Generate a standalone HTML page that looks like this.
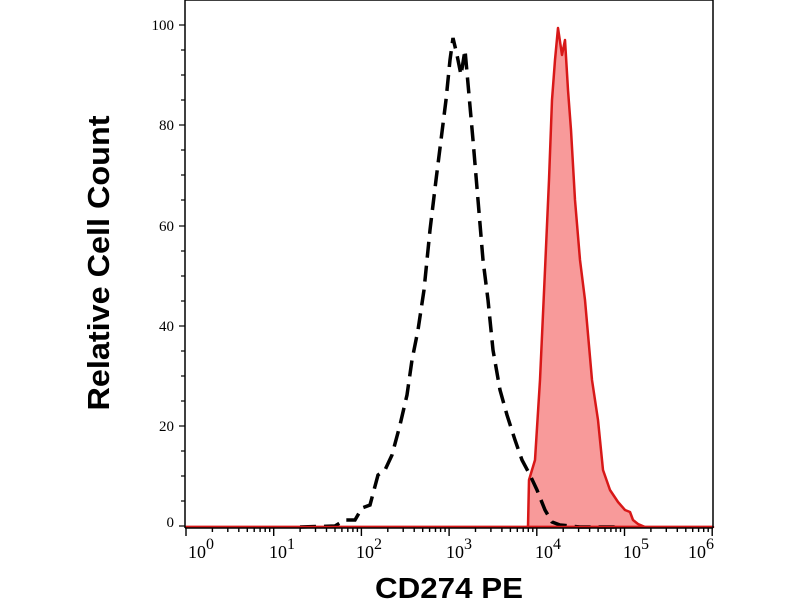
<!DOCTYPE html>
<html><head><style>body{margin:0;background:#fff}</style></head><body>
<svg width="800" height="600" viewBox="0 0 800 600" xmlns="http://www.w3.org/2000/svg">
<rect width="800" height="600" fill="#fff"/>
<polygon fill="#f89a9a" stroke="#d81818" stroke-width="2.5" stroke-linejoin="round" points="186,527 526,527 528,527 529,480 535,460 540,380 545,270 549,180 552,100 555,60 558,28 562,55 565,40 568,90 571,130 575,200 580,260 585,300 592,380 598,420 603,470 610,490 618,502 625,510 630,512 633,520 638,524 645,527 713,527"/>
<polyline fill="none" stroke="#000" stroke-width="3.5" stroke-dasharray="16,8" points="300,527 335,526 345,520 355,520 362,508 370,505 378,475 385,470 392,455 400,425 407,395 412,360 418,330 424,290 430,230 436,180 441,140 446,100 450,60 453,38 457,55 461,75 465,50 469,95 473,140 478,200 483,260 488,300 493,350 500,390 507,415 515,440 522,460 530,475 537,490 545,510 552,522 560,525 580,527 620,527"/>
<line x1="186" y1="527" x2="713" y2="527" stroke="#d81818" stroke-width="2.5"/>
<g stroke="#000" stroke-width="1.5" fill="none">
<line x1="185" y1="0" x2="185" y2="528"/>
<line x1="713" y1="0" x2="713" y2="528"/>
<line x1="185" y1="0" x2="713" y2="0"/>
<line x1="185" y1="528" x2="713" y2="528"/>
</g>
<g stroke="#000" stroke-width="1.2">
<line x1="179" y1="25" x2="185" y2="25"/><line x1="181" y1="50" x2="185" y2="50"/><line x1="181" y1="75" x2="185" y2="75"/><line x1="181" y1="100" x2="185" y2="100"/>
<line x1="179" y1="125" x2="185" y2="125"/><line x1="181" y1="150" x2="185" y2="150"/><line x1="181" y1="175" x2="185" y2="175"/><line x1="181" y1="200" x2="185" y2="200"/>
<line x1="179" y1="226" x2="185" y2="226"/><line x1="181" y1="251" x2="185" y2="251"/><line x1="181" y1="276" x2="185" y2="276"/><line x1="181" y1="301" x2="185" y2="301"/>
<line x1="179" y1="326" x2="185" y2="326"/><line x1="181" y1="351" x2="185" y2="351"/><line x1="181" y1="376" x2="185" y2="376"/><line x1="181" y1="401" x2="185" y2="401"/>
<line x1="179" y1="426" x2="185" y2="426"/><line x1="181" y1="451" x2="185" y2="451"/><line x1="181" y1="476" x2="185" y2="476"/><line x1="181" y1="501" x2="185" y2="501"/>
<line x1="179" y1="526" x2="185" y2="526"/>
</g>
<g font-family="Liberation Serif, serif" font-size="15" text-anchor="end" fill="#000">
<text x="174" y="30">100</text><text x="174" y="130">80</text><text x="174" y="231">60</text><text x="174" y="331">40</text><text x="174" y="431">20</text><text x="174" y="527">0</text>
</g>
<g stroke="#000" stroke-width="1.4">
<path d="M186,528v8M273.7,528v8M361.4,528v8M449.1,528v8M536.8,528v8M624.5,528v8M712.2,528v8"/>
<path d="M212.4,528v4M227.8,528v4M238.8,528v4M247.3,528v4M254.2,528v4M260.1,528v4M265.2,528v4M269.7,528v4
M300.1,528v4M315.5,528v4M326.5,528v4M335,528v4M341.9,528v4M347.8,528v4M352.9,528v4M357.4,528v4
M387.8,528v4M403.2,528v4M414.2,528v4M422.7,528v4M429.6,528v4M435.5,528v4M440.6,528v4M445.1,528v4
M475.5,528v4M490.9,528v4M501.9,528v4M510.4,528v4M517.3,528v4M523.2,528v4M528.3,528v4M532.8,528v4
M563.2,528v4M578.6,528v4M589.6,528v4M598.1,528v4M605,528v4M610.9,528v4M616,528v4M620.5,528v4
M650.9,528v4M666.3,528v4M677.3,528v4M685.8,528v4M692.7,528v4M698.6,528v4M703.7,528v4M708.2,528v4"/>
</g>
<g font-family="Liberation Serif, serif" font-size="18" fill="#000">
<text x="188" y="558">10<tspan dy="-9" font-size="16">0</tspan></text>
<text x="269" y="558">10<tspan dy="-9" font-size="16">1</tspan></text>
<text x="356" y="558">10<tspan dy="-9" font-size="16">2</tspan></text>
<text x="446" y="558">10<tspan dy="-9" font-size="16">3</tspan></text>
<text x="535" y="558">10<tspan dy="-9" font-size="16">4</tspan></text>
<text x="623" y="558">10<tspan dy="-9" font-size="16">5</tspan></text>
<text x="688" y="558">10<tspan dy="-9" font-size="16">6</tspan></text>
</g>
<text transform="translate(109,263) rotate(-90)" text-anchor="middle" font-family="Liberation Sans, sans-serif" font-weight="bold" font-size="31" textLength="295" lengthAdjust="spacingAndGlyphs">Relative Cell Count</text>
<text x="449" y="598" text-anchor="middle" font-family="Liberation Sans, sans-serif" font-weight="bold" font-size="29" textLength="148" lengthAdjust="spacingAndGlyphs">CD274 PE</text>
</svg>
</body></html>
